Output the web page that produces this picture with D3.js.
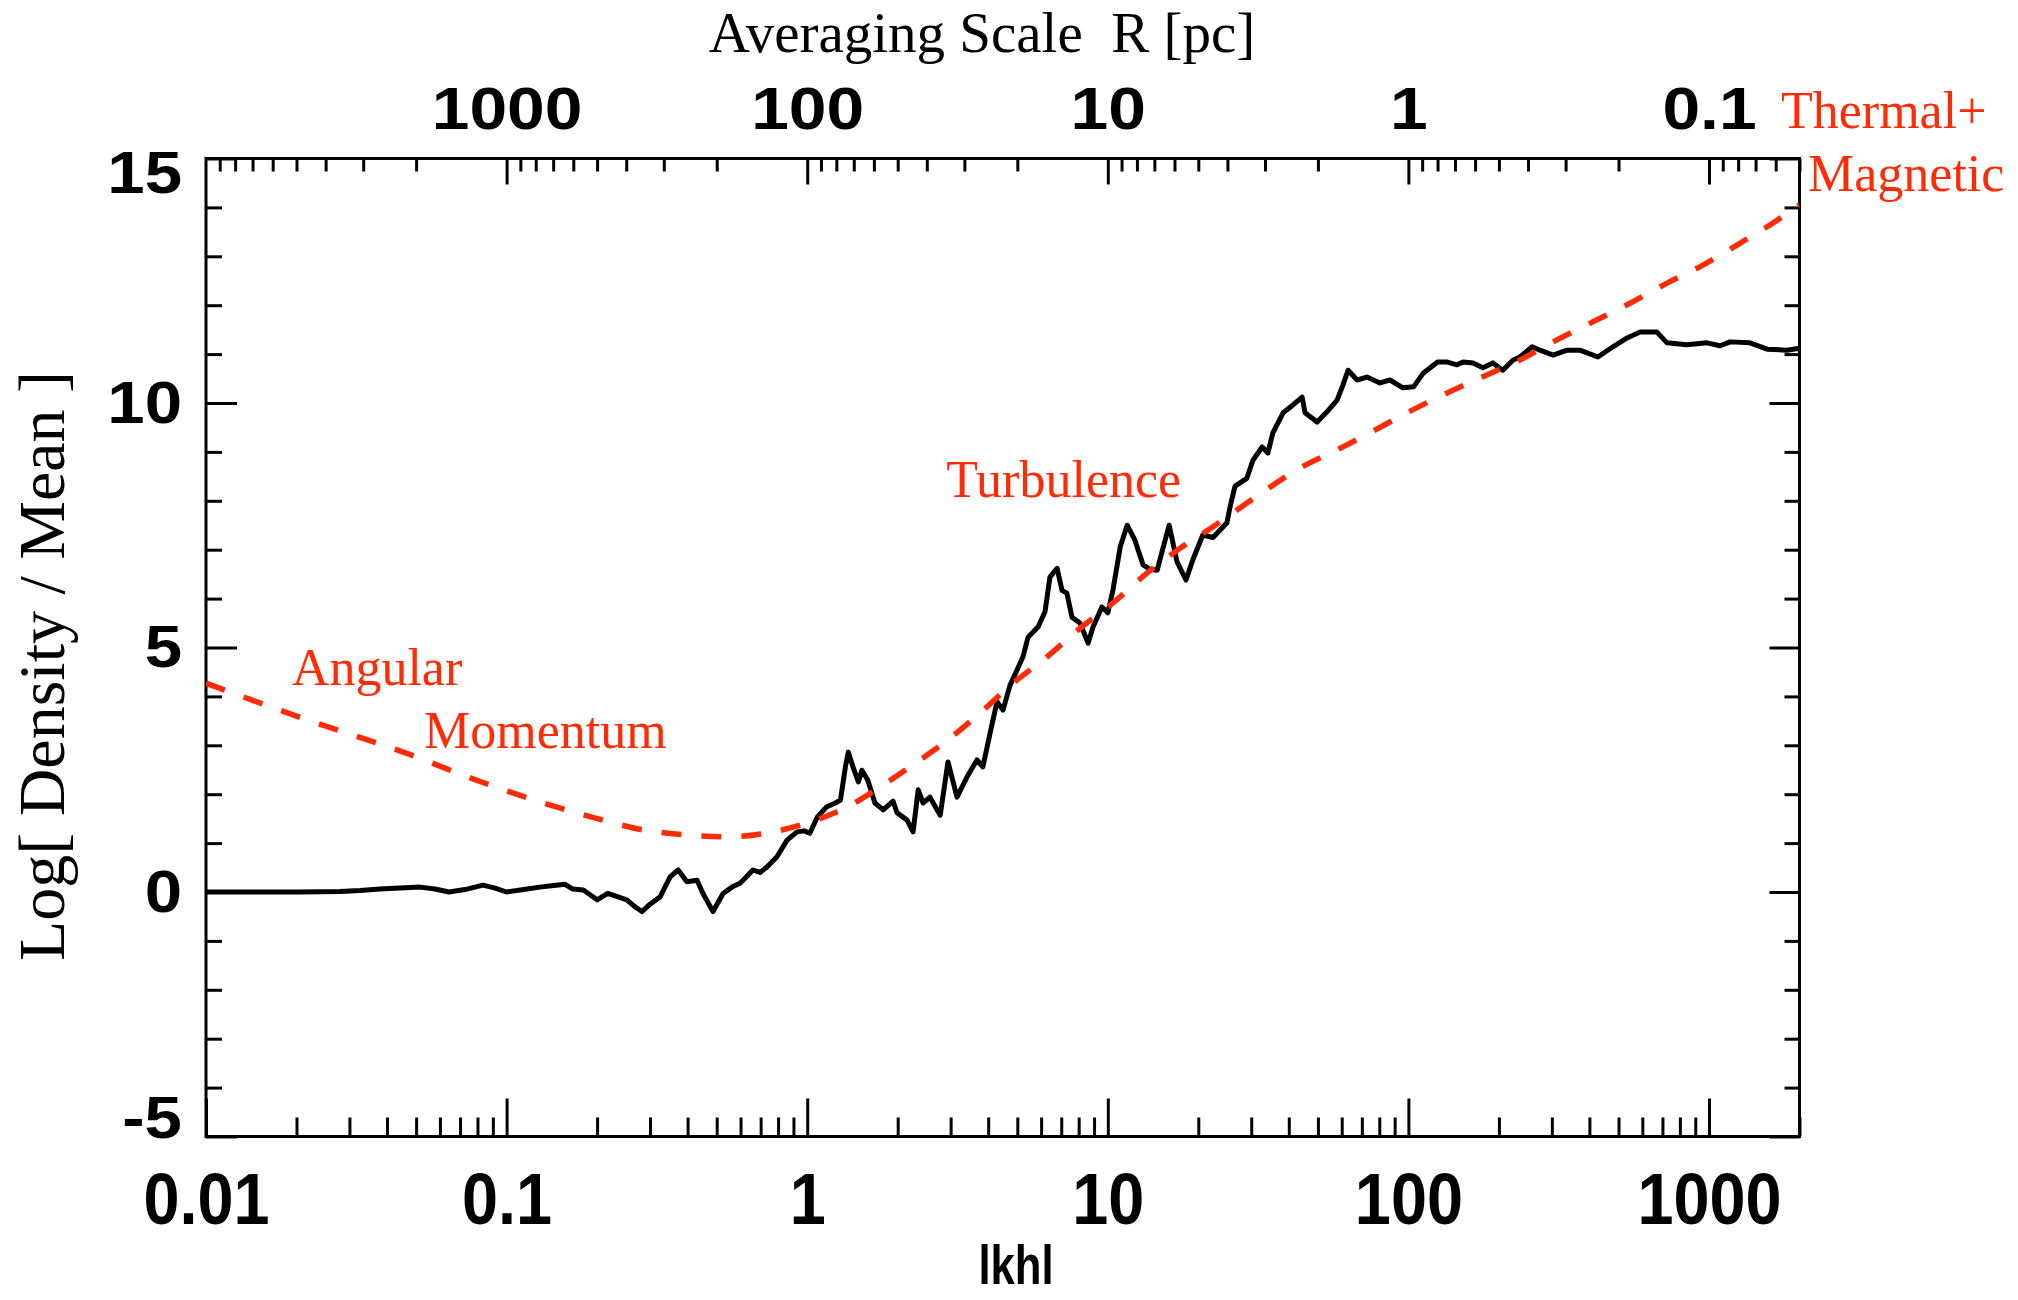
<!DOCTYPE html>
<html>
<head>
<meta charset="utf-8">
<script src="https://cdn.jsdelivr.net/npm/d3@7"></script>
<style>
  html, body { margin: 0; padding: 0; background: #ffffff; }
  svg { display: block; }
  .serif { font-family: "Liberation Serif", "Times New Roman", serif; }
  .sans { font-family: "Liberation Sans", Arial, Helvetica, sans-serif; font-weight: bold; }
</style>
</head>
<body>
<svg id="chart" width="2018" height="1300"></svg>
<script>
// Measured density profile: [ |k h| , log10(density / mean) ]
const densityProfile = [
  [0.01, 0], [0.014, 0], [0.0205, 0], [0.0279, 0.01], [0.0325, 0.03], [0.0379, 0.06],
  [0.0442, 0.08], [0.0515, 0.1], [0.0578, 0.06], [0.0643, 0.0], [0.0727, 0.05], [0.0835, 0.14],
  [0.0915, 0.08], [0.1, 0.0], [0.111, 0.04], [0.129, 0.1], [0.146, 0.14], [0.156, 0.16],
  [0.166, 0.06], [0.18, 0.04], [0.189, -0.05], [0.2, -0.16], [0.217, -0.03], [0.235, -0.1],
  [0.251, -0.16], [0.267, -0.3], [0.282, -0.4], [0.3, -0.25], [0.324, -0.1], [0.35, 0.31],
  [0.372, 0.45], [0.398, 0.21], [0.43, 0.24], [0.45, -0.03], [0.486, -0.4], [0.525, -0.03],
  [0.562, 0.1], [0.598, 0.18], [0.66, 0.45], [0.697, 0.4], [0.735, 0.51], [0.793, 0.72],
  [0.857, 1.06], [0.925, 1.23], [0.976, 1.25], [1.02, 1.2], [1.08, 1.53], [1.16, 1.74],
  [1.24, 1.82], [1.29, 1.88], [1.34, 2.56], [1.37, 2.86], [1.42, 2.56], [1.48, 2.25],
  [1.52, 2.49], [1.59, 2.29], [1.68, 1.82], [1.79, 1.68], [1.93, 1.86], [1.99, 1.62],
  [2.15, 1.47], [2.25, 1.23], [2.34, 2.09], [2.43, 1.82], [2.56, 1.94], [2.77, 1.57],
  [2.94, 2.66], [3.15, 1.94], [3.4, 2.35], [3.67, 2.7], [3.84, 2.56], [4.06, 3.25],
  [4.28, 3.89], [4.48, 3.72], [4.73, 4.23], [4.99, 4.54], [5.22, 4.81], [5.43, 5.21],
  [5.86, 5.42], [6.18, 5.73], [6.42, 6.44], [6.78, 6.62], [7.04, 6.17], [7.31, 6.11],
  [7.6, 5.62], [8.08, 5.5], [8.6, 5.09], [8.93, 5.42], [9.56, 5.83], [10.0, 5.71],
  [10.4, 6.17], [11.0, 7.06], [11.6, 7.5], [12.3, 7.2], [13.1, 6.69], [13.8, 6.6],
  [14.6, 6.58], [15.3, 7.06], [16.0, 7.5], [17.0, 6.75], [18.2, 6.38], [19.2, 6.8],
  [20.7, 7.3], [22.4, 7.25], [24.2, 7.47], [24.9, 7.55], [25.5, 7.87], [26.5, 8.3],
  [29.0, 8.46], [30.4, 8.83], [32.6, 9.1], [34.1, 8.98], [35.4, 9.39], [38.3, 9.8],
  [41.3, 9.96], [44.3, 10.12], [45.3, 9.8], [49.7, 9.61], [53.6, 9.82], [57.9, 10.06],
  [60.6, 10.37], [63.0, 10.67], [67.5, 10.47], [72.8, 10.53], [80.4, 10.41], [86.8, 10.47],
  [95.9, 10.31], [104, 10.33], [112, 10.61], [125, 10.84], [134, 10.84], [145, 10.78],
  [152, 10.84], [164, 10.82], [177, 10.72], [191, 10.82], [206, 10.67], [223, 10.88],
  [235, 10.94], [258, 11.15], [274, 11.08], [303, 10.98], [337, 11.08], [372, 11.08],
  [427, 10.94], [479, 11.15], [534, 11.33], [590, 11.45], [671, 11.45], [725, 11.23],
  [845, 11.19], [985, 11.23], [1088, 11.17], [1175, 11.25], [1369, 11.23], [1560, 11.1],
  [1818, 11.08], [2000, 11.12]
];

// Critical density model (angular momentum / turbulence / thermal + magnetic support)
const supportModel = [
  [0.01, 4.27], [0.0215, 3.53], [0.0463, 2.84], [0.0816, 2.26], [0.15, 1.72], [0.209, 1.47],
  [0.284, 1.27], [0.392, 1.17], [0.541, 1.13], [0.724, 1.2], [1.0, 1.41], [1.36, 1.74],
  [1.75, 2.15], [2.25, 2.6], [2.92, 3.1], [3.76, 3.66], [4.84, 4.27], [6.28, 4.81],
  [8.08, 5.39], [10.4, 5.91], [13.5, 6.52], [17.4, 7.03], [22.4, 7.47], [26.9, 7.81],
  [32.8, 8.18], [43.6, 8.67], [56.1, 9.0], [74.5, 9.39], [98.9, 9.8], [130, 10.16],
  [173, 10.51], [235, 10.88], [312, 11.29], [411, 11.66], [546, 12.04], [725, 12.45],
  [955, 12.82], [1239, 13.23], [1633, 13.68], [2000, 14.05]
];

const kDomain = [0.01, 2000];
const kTicks = [0.01, 0.1, 1, 10, 100, 1000];
const kTickLabels = ["0.01", "0.1", "1", "10", "100", "1000"];
// averaging scale R [pc] = 100 / |k h|
const rDomain = [10000, 0.05];
const rTicks = [1000, 100, 10, 1, 0.1];
const rTickLabels = ["1000", "100", "10", "1", "0.1"];
const yDomain = [-5, 15];
const yTicks = [-5, 0, 5, 10, 15];
const yTickLabels = ["-5", "0", "5", "10", "15"];

const regimeLabels = [
  { text: "Angular",    k: 0.0193, v: 4.23 },
  { text: "Momentum",   k: 0.0531, v: 2.94 },
  { text: "Turbulence", k: 2.90,   v: 8.08 },
  { text: "Thermal+",   k: 1736,   v: 15.62 },
  { text: "Magnetic",   k: 2135,   v: 14.34 }
];

// ---- layout ----
const L = 206, R = 1799.5, T = 158.5, B = 1136.5;
const RED = "#ff2a06";

const svg = d3.select("#chart");
svg.append("rect").attr("width", 2018).attr("height", 1300).attr("fill", "#fff");

const x = d3.scaleLog().domain(kDomain).range([L, R]);
const xr = d3.scaleLog().domain(rDomain).range([L, R]);
const y = d3.scaleLinear().domain(yDomain).range([B, T]);

const isIn = (arr, d) => arr.some(t => Math.abs(t - d) / t < 1e-6);

// minor tick sets from the scales
const kMinor = x.ticks().filter(d => !isIn(kTicks, d));
const rMinor = xr.ticks().filter(d => !isIn(rTicks, d) && Math.abs(d - 10000) > 1e-6);
const yMinor = y.ticks(20).filter(d => !yTicks.includes(d));

function styleAxis(g) {
  g.select(".domain").remove();
  g.selectAll(".tick line").attr("stroke", "#000").attr("stroke-width", 3);
}

// bottom axis: |k h|
const gBottom = svg.append("g").attr("transform", `translate(0,${B})`)
  .call(d3.axisBottom(x).tickValues(kTicks).tickSize(-38).tickPadding(36.5)
    .tickFormat((d, i) => kTickLabels[i]));
styleAxis(gBottom);
gBottom.selectAll(".tick text")
  .attr("class", "sans").attr("font-size", 72).attr("fill", "#000")
  .attr("transform", "scale(0.9,1)");
svg.append("g").attr("transform", `translate(0,${B})`)
  .call(d3.axisBottom(x).tickValues(kMinor).tickSize(-19).tickFormat(""))
  .call(styleAxis);

// top axis: averaging scale R
const gTop = svg.append("g").attr("transform", `translate(0,${T})`)
  .call(d3.axisTop(xr).tickValues(rTicks).tickSize(-26).tickPadding(29.5)
    .tickFormat((d, i) => rTickLabels[i]));
styleAxis(gTop);
gTop.selectAll(".tick text")
  .attr("class", "sans").attr("font-size", 60).attr("fill", "#000")
  .attr("transform", "scale(1.13,1)");
svg.append("g").attr("transform", `translate(0,${T})`)
  .call(d3.axisTop(xr).tickValues(rMinor).tickSize(-13).tickFormat(""))
  .call(styleAxis);

// left axis: log density / mean
const gLeft = svg.append("g").attr("transform", `translate(${L},0)`)
  .call(d3.axisLeft(y).tickValues(yTicks).tickSize(-31).tickPadding(24)
    .tickFormat((d, i) => yTickLabels[i]));
styleAxis(gLeft);
gLeft.selectAll(".tick text")
  .attr("class", "sans").attr("font-size", 60).attr("fill", "#000")
  .attr("x", 0)
  .attr("transform", d => {
    const shift = d === 15 ? 15 : (d === -5 ? -18 : 0);
    return `translate(-24,${shift}) scale(1.12,1)`;
  });
svg.append("g").attr("transform", `translate(${L},0)`)
  .call(d3.axisLeft(y).tickValues(yMinor).tickSize(-16).tickFormat(""))
  .call(styleAxis);

// right axis (ticks only)
svg.append("g").attr("transform", `translate(${R},0)`)
  .call(d3.axisRight(y).tickValues(yTicks).tickSize(-30).tickFormat(""))
  .call(styleAxis);
svg.append("g").attr("transform", `translate(${R},0)`)
  .call(d3.axisRight(y).tickValues(yMinor).tickSize(-15).tickFormat(""))
  .call(styleAxis);

// plot frame
svg.append("rect")
  .attr("x", L).attr("y", T).attr("width", R - L).attr("height", B - T)
  .attr("fill", "none").attr("stroke", "#000").attr("stroke-width", 3);

// clip for curves
svg.append("clipPath").attr("id", "plotClip")
  .append("rect").attr("x", L).attr("y", T).attr("width", R - L).attr("height", B - T);

svg.append("path")
  .datum(densityProfile)
  .attr("clip-path", "url(#plotClip)")
  .attr("d", d3.line().x(d => x(d[0])).y(d => y(d[1])).curve(d3.curveLinear))
  .attr("fill", "none").attr("stroke", "#000")
  .attr("stroke-width", 5).attr("stroke-linejoin", "round");

svg.append("path")
  .datum(supportModel)
  .attr("clip-path", "url(#plotClip)")
  .attr("d", d3.line().x(d => x(d[0])).y(d => y(d[1])).curve(d3.curveMonotoneX))
  .attr("fill", "none").attr("stroke", RED)
  .attr("stroke-width", 5.5).attr("stroke-dasharray", "20 20");

// regime labels
svg.append("g").selectAll("text")
  .data(regimeLabels).join("text")
  .attr("class", "serif")
  .attr("x", d => x(d.k)).attr("y", d => y(d.v))
  .attr("font-size", 52).attr("fill", RED)
  .text(d => d.text);

// axis titles
svg.append("text")
  .attr("class", "serif")
  .attr("x", 982).attr("y", 52)
  .attr("text-anchor", "middle").attr("font-size", 57)
  .style("white-space", "pre")
  .text("Averaging Scale  R [pc]");

svg.append("text")
  .attr("class", "sans")
  .attr("transform", "translate(1016,1284) scale(0.78,1)")
  .attr("text-anchor", "middle").attr("font-size", 56)
  .text("lkhl");

svg.append("text")
  .attr("class", "serif")
  .attr("transform", "translate(64,666) rotate(-90)")
  .attr("text-anchor", "middle").attr("font-size", 66)
  .text("Log[ Density / Mean ]");
</script>
</body>
</html>
